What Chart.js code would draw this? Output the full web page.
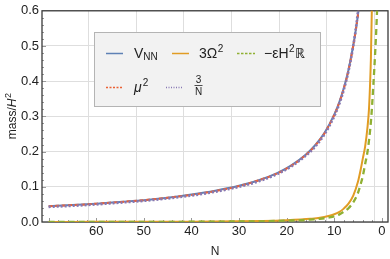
<!DOCTYPE html>
<html>
<head>
<meta charset="utf-8">
<script src="https://cdn.jsdelivr.net/npm/chart.js@4.4.0/dist/chart.umd.min.js"></script>
<style>
html, body { margin: 0; padding: 0; background: #fff; }
#cadre { width: 390px; height: 259px; position: relative; }
</style>
</head>
<body>
<div id="cadre"><canvas id="graphe"></canvas></div>
<script>
// valeurs
const n_haut = [70, 65, 60, 55, 50, 45, 40, 35, 30, 26, 22, 19, 16, 14, 12, 10, 9, 8, 7, 6, 5.5, 5, 4.5, 4]
const v_nn = [0.045, 0.048, 0.052, 0.057, 0.062, 0.069, 0.078, 0.089, 0.103, 0.118, 0.139, 0.161, 0.191, 0.218, 0.254, 0.305, 0.338, 0.38, 0.432, 0.502, 0.543, 0.59, 0.65, 0.72]
const mu2 = [0.045, 0.048, 0.052, 0.057, 0.062, 0.069, 0.077, 0.088, 0.102, 0.118, 0.138, 0.16, 0.19, 0.217, 0.253, 0.304, 0.337, 0.379, 0.431, 0.501, 0.542, 0.59, 0.65, 0.72]
const trois_sur_n = [0.043, 0.046, 0.05, 0.055, 0.06, 0.067, 0.075, 0.086, 0.1, 0.115, 0.136, 0.158, 0.188, 0.214, 0.25, 0.3, 0.333, 0.375, 0.429, 0.5, 0.545, 0.6, 0.667, 0.75]

const n_omega = [70, 60, 50, 40, 30, 25, 20, 17, 15, 13, 11, 10, 9, 8, 7, 6, 5, 4.5, 4, 3.5, 3, 2.7, 2.5, 2.3, 2.1, 1.9]
const omega2 = [0.0003, 0.0004, 0.0006, 0.001, 0.002, 0.003, 0.005, 0.007, 0.009, 0.012, 0.018, 0.022, 0.028, 0.038, 0.052, 0.075, 0.115, 0.145, 0.18, 0.215, 0.27, 0.32, 0.38, 0.46, 0.6, 0.8]

const n_eps = [70, 60, 50, 40, 30, 25, 20, 17, 15, 13, 11, 10, 9, 8, 7, 6, 5, 4.5, 4, 3.5, 3, 2.5, 2.2, 2, 1.8, 1.6, 1.4, 1.2, 1, 0.8]
const eps_h2r = [0.0002, 0.0003, 0.0004, 0.0007, 0.0015, 0.002, 0.004, 0.005, 0.007, 0.009, 0.013, 0.016, 0.021, 0.029, 0.039, 0.056, 0.083, 0.105, 0.13, 0.165, 0.2, 0.255, 0.3, 0.34, 0.385, 0.43, 0.48, 0.535, 0.6, 0.67]

const ticks_x = [60, 50, 40, 30, 20, 10, 0]
const grille_x = [61.6, 51.6, 41.6, 31.6, 21.6, 11.6, 1.6]
const ticks_y = [0, 0.1, 0.2, 0.3, 0.4, 0.5, 0.6]

const police = "'Liberation Sans', Arial, sans-serif"
const gris_grille = '#dedede'

const points = (xs, ys) => xs.map((x, i) => ({ x: x, y: ys[i] }))

function trait(ctx, x1, y1, x2, y2) {
    ctx.beginPath()
    ctx.moveTo(x1, y1)
    ctx.lineTo(x2, y2)
    ctx.stroke()
}

// ecrit un morceau de texte et renvoie la position suivante
function morceau(ctx, txt, x, y, font) {
    ctx.font = font
    ctx.fillText(txt, x, y)
    return x + ctx.measureText(txt).width
}

const habillage = {
    id: 'habillage',
    beforeDatasetsDraw(chart) {
        const { ctx, chartArea: a, scales } = chart
        ctx.save()
        ctx.strokeStyle = '#999'
        ctx.lineWidth = 1
        for (let v = 0; v <= 70; v += 2) {
            const px = Math.round(scales.x.getPixelForValue(v)) + 0.5
            trait(ctx, px, a.bottom, px, a.bottom - (v % 10 == 0 ? 4 : 2))
        }
        for (let i = 1; i < 30; i++) {
            const py = Math.round(scales.y.getPixelForValue(i * 0.02)) + 0.5
            trait(ctx, a.left, py, a.left + (i % 5 == 0 ? 4 : 2), py)
        }
        ctx.strokeStyle = '#3a3a3a'
        ctx.lineWidth = 1.3
        ctx.strokeRect(a.left, a.top, a.right - a.left, a.bottom - a.top)
        ctx.restore()
    },
    afterDraw(chart) {
        const { ctx, chartArea: a } = chart
        ctx.save()
        ctx.fillStyle = '#222'
        ctx.textBaseline = 'alphabetic'

        // titre axe x
        ctx.font = '12px ' + police
        ctx.textAlign = 'center'
        ctx.fillText('N', (a.left + a.right) / 2, 255)

        // titre axe y
        ctx.textAlign = 'left'
        ctx.save()
        ctx.translate(16, (a.top + a.bottom) / 2)
        ctx.rotate(-Math.PI / 2)
        ctx.font = '12px ' + police
        let w = ctx.measureText('mass/').width
        ctx.font = 'italic 12px ' + police
        w += ctx.measureText('H').width
        ctx.font = '9px ' + police
        w += ctx.measureText('2').width
        let x = -w / 2
        x = morceau(ctx, 'mass/', x, 0, '12px ' + police)
        x = morceau(ctx, 'H', x, 0, 'italic 12px ' + police)
        morceau(ctx, '2', x + 0.5, -5, '9px ' + police)
        ctx.restore()

        // legende
        ctx.fillStyle = '#f2f2f2'
        ctx.fillRect(94, 32, 227, 75)
        ctx.strokeStyle = '#b4b4b4'
        ctx.lineWidth = 1
        ctx.strokeRect(94.5, 32.5, 226, 74)

        const echantillon = (x1, x2, y, couleur, tirets, ep) => {
            ctx.save()
            ctx.strokeStyle = couleur
            ctx.lineWidth = ep
            ctx.setLineDash(tirets)
            trait(ctx, x1, y, x2, y)
            ctx.restore()
        }
        const grand = '14px ' + police
        const petit = '10px ' + police
        ctx.fillStyle = '#222'

        echantillon(106, 123, 53.5, '#5e81b5', [], 1.5)
        x = morceau(ctx, 'V', 134, 57.5, grand)
        morceau(ctx, 'NN', x, 59.5, petit)

        echantillon(172, 189, 53.5, '#e19c24', [], 1.5)
        x = morceau(ctx, '3Ω', 199, 57.5, grand)
        morceau(ctx, '2', x + 0.5, 51.5, petit)

        echantillon(237, 255, 53.5, '#8fb032', [2.5, 1.5], 1.5)
        x = morceau(ctx, '−ε', 264, 57.5, grand)
        x = morceau(ctx, 'H', x, 57.5, grand)
        x = morceau(ctx, '2', x + 0.5, 51.5, petit)
        morceau(ctx, 'ℝ', x + 0.5, 57.5, grand)

        echantillon(106, 123, 87.5, '#eb6235', [2, 1.5], 1.5)
        x = morceau(ctx, 'μ', 134, 91.5, 'italic ' + grand)
        morceau(ctx, '2', x + 1, 85.5, petit)

        echantillon(166, 183, 87.5, '#8778b3', [1, 1.5], 1.5)
        ctx.textAlign = 'center'
        morceau(ctx, '3', 198.5, 83, petit)
        morceau(ctx, 'N', 198.5, 95, petit)
        ctx.strokeStyle = '#222'
        ctx.lineWidth = 0.8
        trait(ctx, 194.5, 85.5, 202.5, 85.5)
        ctx.restore()
    }
}

const ctx = document.getElementById('graphe').getContext('2d')
const graphe = new Chart(ctx, {
    type: 'line',
    data: {
        datasets: [{
            label: 'V_NN',
            data: points(n_haut, v_nn),
            borderColor: '#5e81b5',
            borderWidth: 2,
            order: 5
        },
        {
            label: '3Ω²',
            data: points(n_omega, omega2),
            borderColor: '#e19c24',
            borderWidth: 2,
            order: 4
        },
        {
            label: '−εH²ℝ',
            data: points(n_eps, eps_h2r),
            borderColor: '#8fb032',
            borderWidth: 2.3,
            borderDash: [6, 4],
            order: 3
        },
        {
            label: 'μ²',
            data: points(n_haut, mu2),
            borderColor: '#eb6235',
            borderWidth: 2,
            borderDash: [4, 2.5],
            order: 2
        },
        {
            label: '3/N',
            data: points(n_haut, trois_sur_n),
            borderColor: '#8778b3',
            borderWidth: 2.6,
            borderDash: [2, 2],
            order: 1
        }]
    },
    options: {
        responsive: true,
        maintainAspectRatio: false,
        animation: false,
        devicePixelRatio: 1,
        layout: { padding: { top: 7, right: 2, left: 0, bottom: 0 } },
        elements: {
            point: { radius: 0 },
            line: { cubicInterpolationMode: 'monotone', fill: false }
        },
        plugins: {
            legend: { display: false },
            tooltip: { enabled: false }
        },
        scales: {
            x: {
                type: 'linear',
                reverse: true,
                min: -1.3,
                max: 71.4,
                position: 'bottom',
                grid: { display: false, drawTicks: false },
                border: { display: false },
                ticks: {
                    font: { family: police, size: 13 },
                    color: '#222',
                    padding: 2,
                    maxRotation: 0
                },
                afterBuildTicks: s => { s.ticks = ticks_x.map(v => ({ value: v })) },
                afterFit: s => { s.height = 37 }
            },
            grille: {
                type: 'linear',
                reverse: true,
                min: -1.3,
                max: 71.4,
                position: 'bottom',
                grid: { color: gris_grille, drawTicks: false },
                border: { display: false },
                ticks: { display: false },
                afterBuildTicks: s => { s.ticks = grille_x.map(v => ({ value: v })) },
                afterFit: s => { s.height = 0 }
            },
            y: {
                min: 0,
                max: 0.6,
                grid: { color: gris_grille, drawTicks: false },
                border: { display: false },
                ticks: {
                    font: { family: police, size: 13 },
                    color: '#222',
                    padding: 3,
                    callback: v => v.toFixed(1)
                },
                afterBuildTicks: s => { s.ticks = ticks_y.map(v => ({ value: v })) },
                afterFit: s => { s.width = 42 }
            }
        }
    },
    plugins: [habillage]
})
</script>
</body>
</html>
